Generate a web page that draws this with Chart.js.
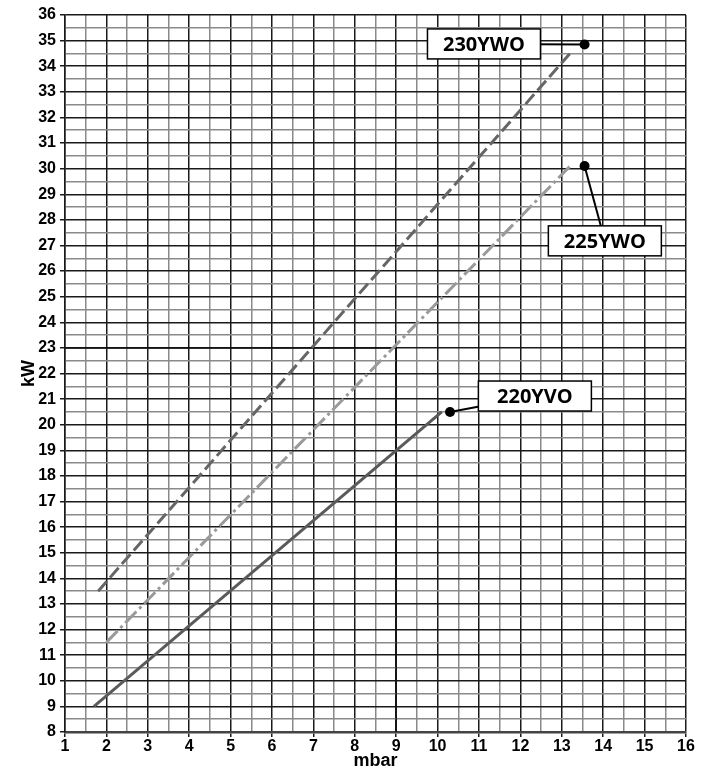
<!DOCTYPE html>
<html>
<head>
<meta charset="utf-8">
<script src="https://cdn.jsdelivr.net/npm/chart.js@4"></script>
<style>
  html, body { margin: 0; padding: 0; background: #fff; }
  #wrap { width: 708px; height: 772px; }
</style>
</head>
<body>
<div id="wrap"><canvas id="kwChart" width="708" height="772"></canvas></div>
<script>
// line end points (mbar, kW)
const names = ['230YWO', '225YWO', '220YVO'];
const lineX = [[1.8, 13.2], [2.0, 13.2], [1.7, 10.1]];
const lineY = [[13.5, 34.5], [11.5, 30.1], [9.0, 20.5]];

// reading guide at 9 mbar / 23 kW
const guideX = [1, 9, 9];
const guideY = [23, 23, 8];

// callout dots and label box centres (data units)
const dotX = [13.55, 13.55, 10.3];
const dotY = [34.85, 30.1, 20.5];
const boxX = [11.12, 14.04, 12.35];
const boxY = [34.87, 27.18, 21.12];

const xMin = 1, xMax = 16, yMin = 8, yMax = 36;

const colors = ['#666666', '#9a9a9a', '#5a5a5a'];
const dashes = [[13, 5], [16, 4, 3, 4], []];

function pts(xs, ys) {
    return xs.map((x, i) => ({ x: x, y: ys[i] }));
}

const datasets = names.map((n, i) => ({
    label: n,
    data: pts(lineX[i], lineY[i]),
    showLine: true,
    borderColor: colors[i],
    borderWidth: 3,
    borderDash: dashes[i],
    pointRadius: 0
}));

datasets.push({
    label: 'guide',
    data: pts(guideX, guideY),
    showLine: true,
    borderColor: '#111',
    borderWidth: 1.5,
    pointRadius: 0
});

const callouts = {
    id: 'callouts',
    afterDatasetsDraw(chart) {
        const ctx = chart.ctx;
        const xs = chart.scales.x, ys = chart.scales.y;
        ctx.save();
        names.forEach((n, i) => {
            const dx = xs.getPixelForValue(dotX[i]), dy = ys.getPixelForValue(dotY[i]);
            const bx = xs.getPixelForValue(boxX[i]), by = ys.getPixelForValue(boxY[i]);
            ctx.strokeStyle = '#000';
            ctx.lineWidth = 2;
            ctx.beginPath();
            ctx.moveTo(dx, dy);
            ctx.lineTo(bx, by);
            ctx.stroke();
            ctx.fillStyle = '#000';
            ctx.beginPath();
            ctx.arc(dx, dy, 5, 0, Math.PI * 2);
            ctx.fill();
            const w = 113, h = 30;
            ctx.fillStyle = '#fff';
            ctx.fillRect(bx - w / 2, by - h / 2, w, h);
            ctx.lineWidth = 1.5;
            ctx.strokeRect(bx - w / 2, by - h / 2, w, h);
            ctx.fillStyle = '#000';
            ctx.font = 'bold 20px "Open Sans"';
            ctx.textAlign = 'center';
            ctx.textBaseline = 'middle';
            ctx.fillText(n, bx, by + 1);
        });
        ctx.restore();
    }
};

const gridColor = c => Number.isInteger(c.tick.value) ? '#1a1a1a' : '#8a8a8a';
const tickColor = c => Number.isInteger(c.tick.value) ? '#1a1a1a' : 'rgba(0,0,0,0)';
const tickLabel = v => Number.isInteger(v) ? v : '';

new Chart(document.getElementById('kwChart').getContext('2d'), {
    type: 'scatter',
    data: { datasets: datasets },
    options: {
        responsive: false,
        animation: false,
        layout: { padding: { top: 15, right: 22, left: 0, bottom: 0 } },
        plugins: { legend: { display: false }, tooltip: { enabled: false } },
        scales: {
            x: {
                min: xMin, max: xMax,
                afterFit: s => { s.height = 40; },
                border: { color: '#444', width: 2.5 },
                grid: { color: gridColor, tickColor: tickColor, lineWidth: 1.5, tickLength: 5 },
                ticks: {
                    stepSize: 0.5, autoSkip: false, maxRotation: 0, padding: 0,
                    callback: tickLabel, color: '#000',
                    font: { family: 'Liberation Sans', weight: 'bold', size: 16 }
                },
                title: {
                    display: true, text: 'mbar', color: '#000', padding: { top: 0, bottom: 0 },
                    font: { family: 'Liberation Sans', weight: 'bold', size: 18 }
                }
            },
            y: {
                min: yMin, max: yMax,
                afterFit: s => { s.width = 65; },
                border: { color: '#1a1a1a', width: 1.5 },
                grid: { color: gridColor, tickColor: tickColor, lineWidth: 1.5, tickLength: 5 },
                ticks: {
                    stepSize: 0.5, autoSkip: false, padding: 4,
                    callback: tickLabel, color: '#000',
                    font: { family: 'Liberation Sans', weight: 'bold', size: 16 }
                },
                title: {
                    display: true, text: 'kW', color: '#000', padding: { top: 18, bottom: 0 },
                    font: { family: 'Liberation Sans', weight: 'bold', size: 18 }
                }
            }
        }
    },
    plugins: [callouts]
});
</script>
</body>
</html>
